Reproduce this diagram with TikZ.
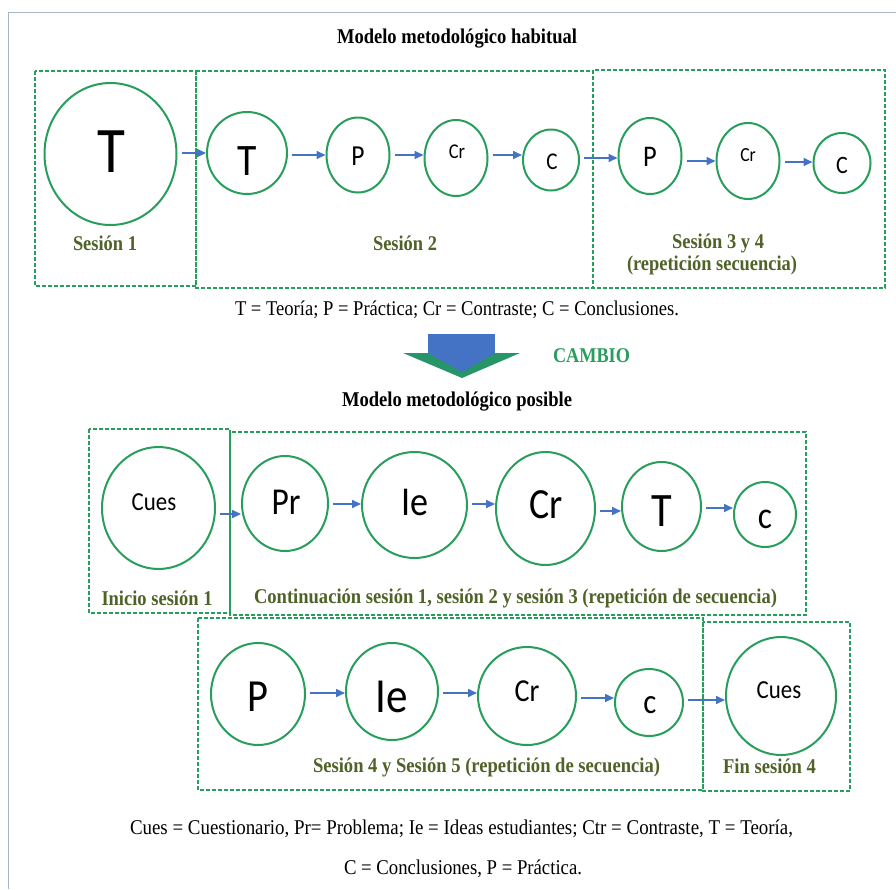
\documentclass[tikz,border=0pt]{standalone}
\usepackage{fontspec}
\usepackage{graphicx}
\setmainfont{Liberation Serif}
\newfontfamily\calfont{Carlito}
\usetikzlibrary{shapes.geometric,arrows.meta}
\definecolor{cgreen}{RGB}{40,158,92}
\definecolor{lgreen}{RGB}{79,98,40}
\definecolor{ablue}{RGB}{68,114,196}
\definecolor{hgreen}{RGB}{38,150,104}
\definecolor{framec}{RGB}{168,182,202}
\newsavebox\fitbox
\newcommand\fitw[2]{\sbox\fitbox{#2}\pgfmathsetmacro\fitfac{#1/\the\wd\fitbox}\scalebox{\fitfac}[1]{\usebox\fitbox}}
\newcommand\sq[1]{\scalebox{0.88}[1]{#1}}
\newcommand\cf[1]{\calfont\fontsize{#1}{#1}\selectfont}
\tikzset{
  circ/.style={draw=cgreen, line width=2pt, ellipse, inner sep=0pt},
  sessbox/.style={draw=cgreen, line width=1.8pt, dash pattern=on 4pt off 2pt},
  arr/.style={draw=ablue, line width=1.6pt, -{Triangle[length=9pt,width=8pt]}, shorten <=4pt},
  ctext/.style={inner sep=0pt},
  stxt/.style={inner sep=0pt, font=\fontsize{21}{24}\selectfont},
  lab/.style={inner sep=0pt, text=lgreen, font=\bfseries\fontsize{21}{24}\selectfont},
  ttl/.style={inner sep=0pt, font=\bfseries\fontsize{21}{24}\selectfont},
}
\begin{document}
\begin{tikzpicture}[x=1pt,y=-1pt]
\useasboundingbox (0,0) rectangle (896,889);
\fill[white] (0,0) rectangle (896,889);
\draw[framec, line width=1.5pt] (8.5,889) -- (8.5,12.5) -- (896,12.5);

% ---------- top section ----------
\node[ttl] (title1) at (457,39) {\fitw{240}{Modelo metodológico habitual}};
\draw[sessbox] (35,71) rectangle (196,286);
\draw[sessbox] (196,71) rectangle (593,288);
\draw[sessbox] (593,70) rectangle (885,288);

\node[circ, minimum width=132pt, minimum height=142pt] (a1) at (110.5,154) {};
\node[circ, minimum width=80pt, minimum height=82pt] (a2) at (247,153) {};
\node[circ, minimum width=63pt, minimum height=75pt] (a3) at (358,155) {};
\node[circ, minimum width=63pt, minimum height=76pt] (a4) at (456,158) {};
\node[circ, minimum width=56pt, minimum height=61pt] (a5) at (551,160) {};
\node[circ, minimum width=63pt, minimum height=76pt] (a6) at (650,156) {};
\node[circ, minimum width=63pt, minimum height=76pt] (a7) at (748,161) {};
\node[circ, minimum width=57pt, minimum height=60pt] (a8) at (842,163) {};

\node[ctext, font=\cf{65}] (a1t) at (111,152) {\sq{T}};
\node[ctext, font=\cf{45}] (a2t) at (247,161) {\sq{T}};
\node[ctext, font=\cf{29}] (a3t) at (358,156) {\sq{P}};
\node[ctext, font=\cf{21}] (a4t) at (457,152) {\sq{Cr}};
\node[ctext, font=\cf{24}] (a5t) at (552,162) {\sq{C}};
\node[ctext, font=\cf{30}] (a6t) at (650,157) {\sq{P}};
\node[ctext, font=\cf{20}] (a7t) at (748,155) {\sq{Cr}};
\node[ctext, font=\cf{25}] (a8t) at (842,165) {\sq{C}};

\draw[arr] (a1.east |- 0,153) -- (a2.west |- 0,153);
\draw[arr] (a2.east |- 0,155) -- (a3.west |- 0,155);
\draw[arr] (a3.east |- 0,155) -- (a4.west |- 0,155);
\draw[arr] (a4.east |- 0,155) -- (a5.west |- 0,155);
\draw[arr] (a5.east |- 0,158) -- (a6.west |- 0,158);
\draw[arr] (a6.east |- 0,161) -- (a7.west |- 0,161);
\draw[arr] (a7.east |- 0,162) -- (a8.west |- 0,162);

\node[lab] (s1) at (105,243) {\fitw{64}{Sesión 1}};
\node[lab] (s2) at (405,243) {\fitw{64}{Sesión 2}};
\node[lab] (s3) at (718,243) {\fitw{92}{Sesión 3 y 4}};
\node[lab] (s3b) at (712,265) {\fitw{170}{(repetición secuencia)}};

\node[stxt] (leg1) at (457,310) {\fitw{444}{T = Teoría; P = Práctica; Cr = Contraste; C = Conclusiones.}};

% ---------- change arrow ----------
\fill[ablue] (428,334) rectangle (495,354);
\fill[hgreen] (403,353) -- (520,353) -- (462,378) -- cycle;
\fill[ablue] (428,353) -- (495,353) -- (462,372) -- cycle;
\node[ttl, text=cgreen] (cambio) at (591.5,356) {\fitw{77}{CAMBIO}};

% ---------- middle section ----------
\node[ttl] (title2) at (457,402) {\fitw{230}{Modelo metodológico posible}};
\draw[sessbox] (89,429) rectangle (230,613);
\draw[sessbox] (230,432) rectangle (806,615);

\node[circ, minimum width=113pt, minimum height=122pt] (b1) at (158.5,508) {};
\node[circ, minimum width=86pt, minimum height=95pt] (b2) at (285,503.5) {};
\node[circ, minimum width=105pt, minimum height=106pt] (b3) at (414.5,505) {};
\node[circ, minimum width=99pt, minimum height=113pt] (b4) at (545.5,508.5) {};
\node[circ, minimum width=79pt, minimum height=89pt] (b5) at (661.5,506.5) {};
\node[circ, minimum width=62pt, minimum height=65pt] (b6) at (765,514.5) {};

\node[ctext, font=\cf{26}] (b1t) at (154,502) {\sq{Cues}};
\node[ctext, font=\cf{38}] (b2t) at (286,502) {\sq{Pr}};
\node[ctext, font=\cf{41}] (b3t) at (415,502) {\sq{Ie}};
\node[ctext, font=\cf{43}] (b4t) at (546,505) {\sq{Cr}};
\node[ctext, font=\cf{48}] (b5t) at (662,511) {\sq{T}};
\node[ctext, font=\cf{38}] (b6t) at (765,519) {\sq{c}};

\draw[arr] (b1.east |- 0,514) -- (b2.west |- 0,514);
\draw[arr] (b2.east |- 0,504) -- (b3.west |- 0,504);
\draw[arr] (b3.east |- 0,504) -- (b4.west |- 0,504);
\draw[arr] (b4.east |- 0,511) -- (b5.west |- 0,511);
\draw[arr] (b5.east |- 0,508) -- (b6.west |- 0,508);

\node[lab] (s4) at (157,598) {\fitw{111}{Inicio sesión 1}};
\node[lab] (s5) at (515.5,598) {\fitw{523}{Continuación sesión 1, sesión 2 y sesión 3 (repetición de secuencia)}};

% ---------- bottom section ----------
\draw[sessbox] (198,618) rectangle (703,790);
\draw[sessbox] (703,622) rectangle (850,791);

\node[circ, minimum width=94pt, minimum height=102pt] (c1) at (258,694) {};
\node[circ, minimum width=92pt, minimum height=97pt] (c2) at (392,691.5) {};
\node[circ, minimum width=98pt, minimum height=98pt] (c3) at (527,696) {};
\node[circ, minimum width=68pt, minimum height=67pt] (c4) at (649,702.5) {};
\node[circ, minimum width=110pt, minimum height=118pt] (c5) at (781,696) {};

\node[ctext, font=\cf{46}] (c1t) at (258,697) {\sq{P}};
\node[ctext, font=\cf{49}] (c2t) at (392,697) {\sq{Ie}};
\node[ctext, font=\cf{32}] (c3t) at (527,691) {\sq{Cr}};
\node[ctext, font=\cf{35}] (c4t) at (650,705) {\sq{c}};
\node[ctext, font=\cf{26}] (c5t) at (779,690) {\sq{Cues}};

\draw[arr] (c1.east |- 0,693) -- (c2.west |- 0,693);
\draw[arr] (c2.east |- 0,693) -- (c3.west |- 0,693);
\draw[arr] (c3.east |- 0,698) -- (c4.west |- 0,698);
\draw[arr] (c4.east |- 0,700) -- (c5.west |- 0,700);

\node[lab] (s6) at (486.5,767) {\fitw{347}{Sesión 4 y Sesión 5 (repetición de secuencia)}};
\node[lab] (s7) at (769.5,766) {\fitw{93}{Fin sesión 4}};

\node[stxt] (leg2) at (461.5,829) {\fitw{663}{Cues = Cuestionario, Pr= Problema; Ie = Ideas estudiantes; Ctr = Contraste, T = Teoría,}};
\node[stxt] (leg3) at (463,869) {\fitw{238}{C = Conclusiones, P = Práctica.}};
\end{tikzpicture}
\end{document}
